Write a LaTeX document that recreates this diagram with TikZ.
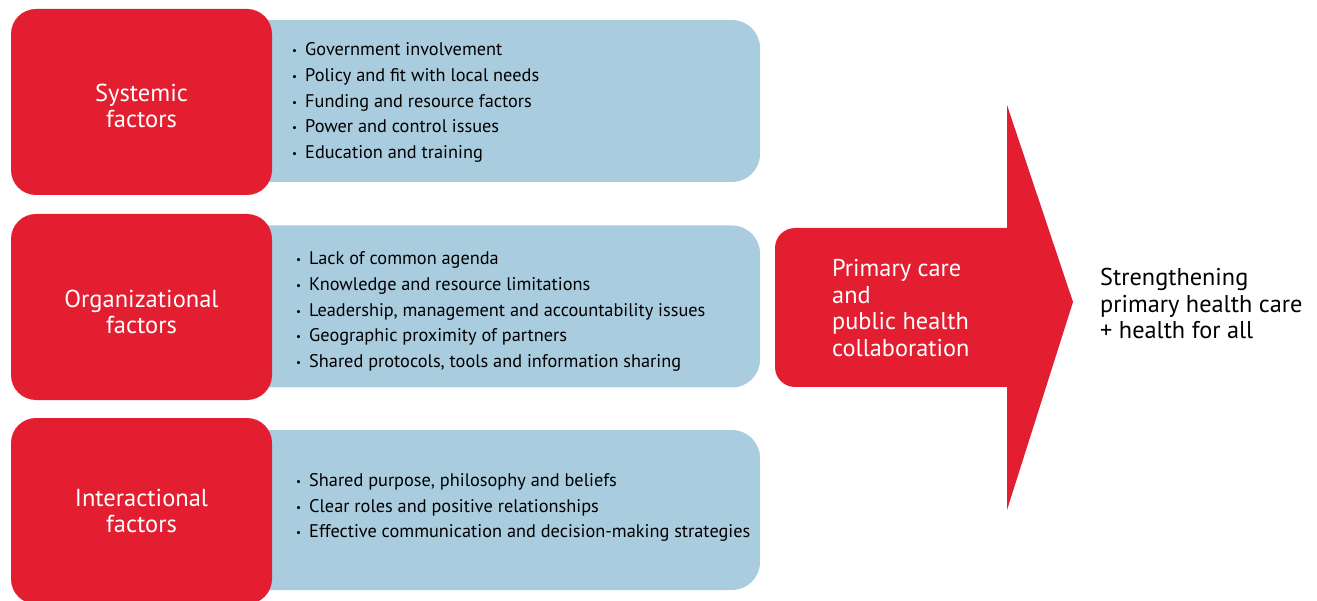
\documentclass[tikz,border=0pt]{standalone}
\usepackage{fontspec}
\setmainfont{PT Sans}
\usetikzlibrary{positioning}
\definecolor{factorred}{RGB}{227,30,48}
\definecolor{factorblue}{RGB}{169,204,223}
\tikzset{
  factor/.style={fill=factorred, rounded corners=25pt, minimum width=261pt,
    minimum height=186pt, inner sep=0pt},
  factortext/.style={text=white, align=center, inner sep=0pt,
    font=\fontsize{24.5}{26}\selectfont},
  detail/.style={fill=factorblue, rounded corners=28pt, minimum width=530pt,
    minimum height=162pt, inner sep=0pt},
  itemlist/.style={anchor=west, align=left, inner sep=0pt,
    font=\fontsize{18.3}{25.7}\selectfont},
  bigtext/.style={anchor=west, align=left, inner sep=0pt,
    font=\fontsize{24.3}{26.5}\selectfont}
}
\newcommand{\itm}{\makebox[13pt][l]{\raisebox{1pt}{\fontsize{11}{11}\selectfont\textbullet}}}

\begin{document}
\begin{tikzpicture}[x=1pt,y=-1pt]
\clip (0,0) rectangle (1317,601);

% blue boxes first, red boxes on top
\node[detail] (sysd) at (495,101) {};
\node[detail] (orgd) at (495,306.5) {};
\node[detail, minimum height=160pt] (interd) at (495,510) {};

\node[factor] (sys) at (141.5,102) {};
\node[factor] (org) at (141.5,307) {};
\node[factor] (inter) at (141.5,511) {};
\node[factortext] (syst) at ([yshift=-4pt]sys.center) {Systemic\\factors};
\node[factortext] (orgt) at ([yshift=-5pt]org.center) {Organizational\\factors};
\node[factortext] (intert) at (inter.center) {Interactional\\factors};

\node[itemlist] (syslist) at (292,102.5) {\itm Government involvement\\
  \itm Policy and fit with local needs\\
  \itm Funding and resource factors\\
  \itm Power and control issues\\
  \itm Education and training};
\node[itemlist] (orglist) at (296,311.5) {\itm Lack of common agenda\\
  \itm Knowledge and resource limitations\\
  \itm Leadership, management and accountability issues\\
  \itm Geographic proximity of partners\\
  \itm Shared protocols, tools and information sharing};
\node[itemlist] (interlist) at (296,507.5) {\itm Shared purpose, philosophy and beliefs\\
  \itm Clear roles and positive relationships\\
  \itm Effective communication and decision-making strategies};

% big arrow
\coordinate (tip) at (1073,302);
\fill[factorred, rounded corners=20pt] (890,228) -- (775,228) -- (775,387)
  -- (890,387) [sharp corners] -- (1007,387) -- (1007,510) -- (tip)
  -- (1007,105) -- (1007,228) -- cycle;
\node[bigtext, text=white] (collab) at (832,308) {Primary care\\and\\public health\\collaboration};

\node[bigtext] (goal) at (1100,303.5) {Strengthening\\primary health care\\+ health for all};
\end{tikzpicture}
\end{document}
